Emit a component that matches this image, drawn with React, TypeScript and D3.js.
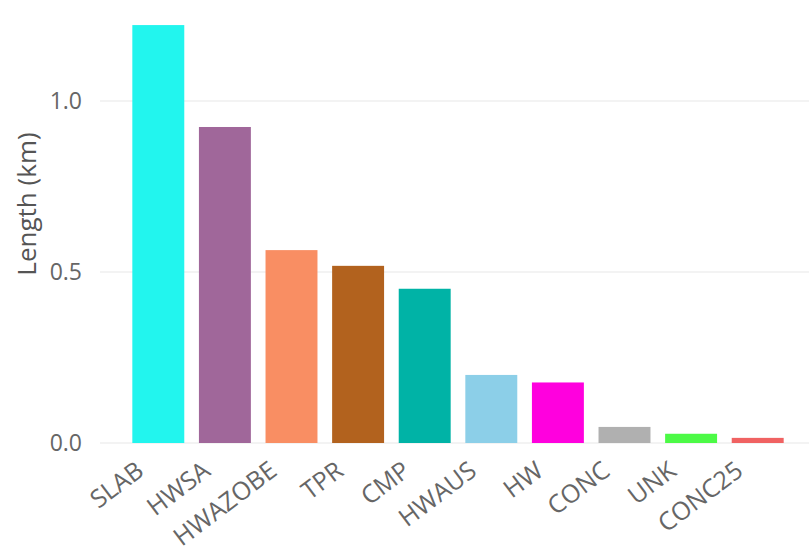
import React from "react";
import * as d3 from "d3";

// values, in km
const categories = ["SLAB", "HWSA", "HWAZOBE", "TPR", "CMP", "HWAUS", "HW", "CONC", "UNK", "CONC25"];
const lengths = [1.222, 0.924, 0.564, 0.518, 0.451, 0.199, 0.177, 0.047, 0.027, 0.015];
const barColors = ["#22f5ee", "#a0679a", "#f98e63", "#b2621e", "#00b3a6", "#8ccfe8", "#ff00de", "#b0b0b0", "#4cfa46", "#f06262"];
const yTicks = [0, 0.5, 1.0];

const WIDTH = 809;
const HEIGHT = 551;
const FONT = "'Open Sans', 'Noto Sans', sans-serif";

export default function App() {
  const plotLeft = 100;
  const baseline = 443;

  const x = d3.scaleBand<string>()
    .domain(categories)
    .range([125, 791])
    .paddingInner(0.22)
    .paddingOuter(0.11);

  const y = d3.scaleLinear()
    .domain([0, 1.0])
    .range([baseline, 101]);

  const data = categories.map((c, i) => ({ name: c, value: lengths[i], color: barColors[i] }));

  return (
    <div style={{ position: "absolute", left: 0, top: 0 }}>
      <svg width={WIDTH} height={HEIGHT} style={{ display: "block", background: "#fff" }}>
        {/* gridlines */}
        {yTicks.map((t) => (
          <line key={"g" + t} x1={plotLeft} x2={WIDTH} y1={y(t)} y2={y(t)} stroke="#efefef" strokeWidth={1.5} />
        ))}

        {/* y tick labels */}
        {yTicks.map((t) => (
          <text key={"t" + t} x={82} y={y(t)} dy="0.36em" textAnchor="end"
            fontFamily={FONT} fontSize={23} fill="#666">
            {d3.format(".1f")(t)}
          </text>
        ))}

        <text transform={`translate(36,${204}) rotate(-90)`} textAnchor="middle"
          fontFamily={FONT} fontSize={26} fill="#555">
          Length (km)
        </text>

        {/* bars */}
        {data.map((d) => (
          <rect key={d.name} x={x(d.name)} y={y(d.value)} width={x.bandwidth()}
            height={baseline - y(d.value)} fill={d.color} />
        ))}

        {/* category labels */}
        {data.map((d) => (
          <text key={"l" + d.name}
            transform={`translate(${(x(d.name) as number) + x.bandwidth() / 2 - 13},${474}) rotate(-37)`}
            textAnchor="end" fontFamily={FONT} fontSize={25} fill="#666">
            {d.name}
          </text>
        ))}
      </svg>
    </div>
  );
}
